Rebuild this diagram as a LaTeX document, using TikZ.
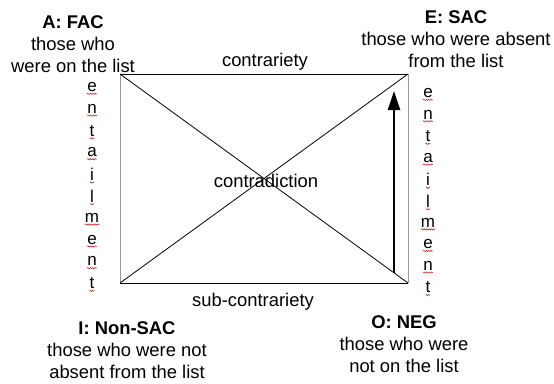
\documentclass[tikz,border=0pt]{standalone}
\usepackage{fontspec}
\setmainfont{Liberation Sans}
\usetikzlibrary{arrows.meta,decorations.pathmorphing,calc}
\begin{document}
\begin{tikzpicture}[x=1pt, y=-1pt,
    corner label/.style={align=center, font=\fontsize{18.4}{22}\selectfont},
    relation/.style={font=\fontsize{18.4}{22}\selectfont},
    side letter/.style={font=\fontsize{17}{20}\selectfont, inner sep=0pt},
    spell mark/.style={draw=red!75!black, line width=0.45pt, decorate,
      decoration={snake, segment length=2.5pt, amplitude=0.7pt}}]
  \useasboundingbox (0,0) rectangle (554,383);
  % corners of the square
  \coordinate (A) at (120,74);
  \coordinate (E) at (408,74);
  \coordinate (I) at (120,283);
  \coordinate (O) at (408,283);
  \draw[line width=0.8pt] (A) -- (E);
  \draw[line width=0.8pt] (I) -- (O);
  \draw[black!40, line width=0.8pt] (A) -- (I);
  \draw[black!40, line width=0.8pt] (E) -- (O);
  \draw[line width=0.8pt] (A) -- (O);
  \draw[line width=0.8pt] (I) -- (E);
  % arrow up from the diagonal
  \coordinate (arrFrom) at (394,273);
  \coordinate (arrTo) at (394,91);
  \draw[line width=2.4pt, -{Triangle[length=19pt, width=12pt]}] (arrFrom) -- (arrTo);
  % corner texts
  \node[corner label] (labA) at (73,44) {\textbf{A: FAC}\\those who\\were on the list};
  \node[corner label] (labE) at (456,39) {\textbf{E: SAC}\\those who were absent\\from the list};
  \node[corner label] (labI) at (127,350) {\textbf{I: Non-SAC}\\those who were not\\absent from the list};
  \node[corner label] (labO) at (404,344) {\textbf{O: NEG}\\those who were\\not on the list};
  % relations
  \node[relation] (contr) at (265,62) {contrariety};
  \node[relation] (subcontr) at (253,302) {sub-contrariety};
  \node[relation] (contrad) at (266,181) {contradiction};
  % entailment written downwards
  \foreach \ch [count=\k from 0] in {e,n,t,a,i,l,m,e,n,t} {
    \node[side letter] (le\k) at (92,87+21.8*\k) {\ch};
    \draw[spell mark] ($(le\k.south west)+(0,2)$) -- ($(le\k.south east)+(0,2)$);
    \node[side letter] (re\k) at (428,93+21.6*\k) {\ch};
    \draw[spell mark] ($(re\k.south west)+(0,2)$) -- ($(re\k.south east)+(0,2)$);
  }
\end{tikzpicture}
\end{document}
